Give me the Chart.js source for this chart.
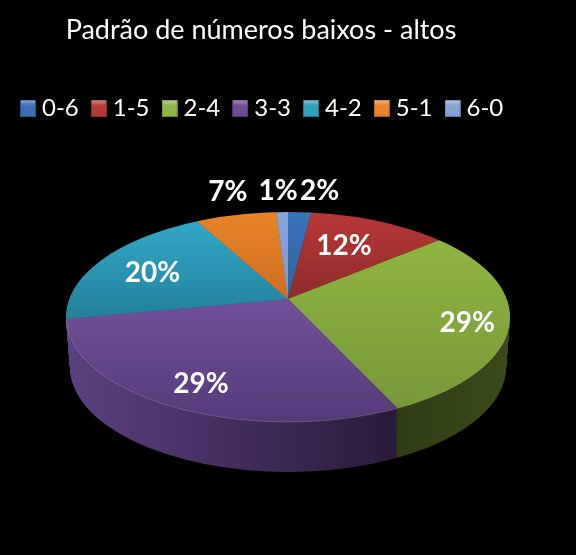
<!DOCTYPE html>
<html>
<head>
<meta charset="utf-8">
<style>
  html, body { margin: 0; padding: 0; background: #000; }
  canvas { display: block; }
</style>
<script src="https://cdn.jsdelivr.net/npm/chart.js@4/dist/chart.umd.min.js"></script>
</head>
<body>
<canvas id="chart" width="576" height="555"></canvas>
<script>
const titleText = 'Padrão de números baixos - altos';
const categories = ['0-6', '1-5', '2-4', '3-3', '4-2', '5-1', '6-0'];
const values = [2, 12, 29, 29, 20, 7, 1];

const swatchColors = ['#3a6fb5', '#b83a38', '#8fb545', '#6d4b96', '#2fa0bd', '#e8842c', '#86a3d6'];
const faceTop = ['#3a74bb', '#b83836', '#8fb540', '#72509a', '#32a6c6', '#e98428', '#86a6dc'];
const faceBottom = ['#2f609f', '#8f2b2b', '#76983a', '#553a7a', '#22809a', '#d06e1e', '#7a98d0'];
const wallLeft = ['#1e3a60', '#5a1c1c', '#0f1800', '#5c4082', '#155060', '#804410', '#4a5c80'];
const wallRight = ['#1e3a60', '#5a1c1c', '#3a4a19', '#2b1c3e', '#155060', '#804410', '#4a5c80'];

// projected shape of the disc, in page pixels
const apexY = 299, rimCx = 288, rimCy = 317, rimRx = 222, rimRy = 105;
const depth = 50, tilt = 0.47, reach = 270;
const faceRange = [[212, 299], [212, 299], [240, 410], [300, 422], [225, 320], [212, 299], [212, 299]];
// radius factor along the slice middle, then a nudge in pixels
const labelSpots = [[.8, 18, -7], [.43, 0, -5], [.68, 0, 5], [.71, 0, 5], [.555, 0, 4], [.8, 0, -10], [.8, -3, -7]];

function rimPath(ctx, cy, rx) {
  ctx.beginPath();
  ctx.ellipse(rimCx, cy, rx, rimRy, 0, 0, Math.PI * 2);
}

const discPlugin = {
  id: 'disc',
  // the legend sits a little right of where the title's centre would put it
  afterLayout(chart) {
    chart.legend.left += 6;
    chart.legend.right += 6;
  },
  beforeDatasetsDraw(chart) {
    const ctx = chart.ctx;
    const arcs = chart.getDatasetMeta(0).data;
    const cx = arcs[0].x, cy = arcs[0].y;
    const s = reach / arcs[0].outerRadius;
    const ux = x => cx + (x - rimCx) / s;
    const uy = y => cy + (y - apexY) / (s * tilt);

    const paint = (arc, fill) => {
      const copy = Object.create(arc);
      copy.options = Object.assign({}, arc.options, { backgroundColor: fill, borderWidth: 0 });
      arc.draw.call(copy, ctx);
    };
    const project = (shift) => {
      ctx.translate(rimCx, apexY + shift);
      ctx.scale(s, s * tilt);
      ctx.translate(-cx, -cy);
    };

    // side wall, stacked from the bottom up
    const wallFills = arcs.map((a, i) => {
      const g = ctx.createLinearGradient(ux(66), 0, ux(510), 0);
      g.addColorStop(0, wallLeft[i]);
      g.addColorStop(i === 3 ? .72 : 1, wallRight[i]);
      return g;
    });
    for (let d = depth; d > 0; d--) {
      ctx.save();
      rimPath(ctx, rimCy + d, rimRx - d * 0.08);
      ctx.clip();
      project(d);
      arcs.forEach((a, i) => paint(a, wallFills[i]));
      ctx.restore();
    }

    // top face
    ctx.save();
    rimPath(ctx, rimCy, rimRx);
    ctx.clip();
    project(0);
    arcs.forEach((a, i) => {
      const g = ctx.createLinearGradient(0, uy(faceRange[i][0]), 0, uy(faceRange[i][1]));
      g.addColorStop(0, faceTop[i]);
      g.addColorStop(1, faceBottom[i]);
      paint(a, g);
    });
    ctx.restore();

    // light line along the front rim
    ctx.save();
    ctx.strokeStyle = 'rgba(255,255,255,0.16)';
    ctx.lineWidth = 1;
    ctx.beginPath();
    ctx.ellipse(rimCx, rimCy, rimRx, rimRy, 0, 0.15, Math.PI - 0.02);
    ctx.stroke();
    ctx.restore();

    // percentage labels
    ctx.save();
    ctx.fillStyle = '#fff';
    ctx.font = 'bold 28px Lato';
    ctx.textAlign = 'center';
    ctx.textBaseline = 'middle';
    arcs.forEach((a, i) => {
      const mid = (a.startAngle + a.endAngle) / 2;
      const [f, nx, ny] = labelSpots[i];
      const x = rimCx + Math.cos(mid) * reach * f + nx;
      const y = apexY + Math.sin(mid) * reach * tilt * f + ny;
      ctx.fillText(values[i] + '%', x, y);
    });
    ctx.restore();
    return false;
  }
};

function swatch(color) {
  const c = document.createElement('canvas');
  c.width = 16; c.height = 17;
  const g = c.getContext('2d');
  g.fillStyle = color;
  g.fillRect(0, 0, 16, 17);
  const top = g.createLinearGradient(0, 0, 0, 6);
  top.addColorStop(0, 'rgba(255,255,255,.4)');
  top.addColorStop(1, 'rgba(255,255,255,0)');
  g.fillStyle = top;
  g.fillRect(1, 0, 14, 6);
  g.strokeStyle = 'rgba(0,0,0,.25)';
  g.strokeRect(.5, .5, 15, 16);
  return c;
}

new Chart(document.getElementById('chart'), {
  type: 'pie',
  data: {
    labels: categories,
    datasets: [{ data: values, backgroundColor: swatchColors, borderWidth: 0 }]
  },
  plugins: [discPlugin],
  options: {
    responsive: false,
    animation: false,
    layout: { padding: { left: 2, right: 56 } },
    plugins: {
      tooltip: { enabled: false },
      title: {
        display: true,
        text: titleText,
        color: '#fff',
        font: { family: 'Lato', size: 27, weight: 'normal' },
        padding: { top: 14, bottom: 32 }
      },
      legend: {
        position: 'top',
        align: 'start',
        onClick: null,
        labels: {
          color: '#fff',
          font: { family: 'Lato', size: 24 },
          usePointStyle: true,
          pointStyleWidth: 4,
          padding: 18,
          generateLabels: chart => categories.map((name, i) => ({
            text: name,
            fontColor: '#fff',
            pointStyle: swatch(swatchColors[i]),
            index: i
          }))
        }
      }
    }
  }
});
</script>
</body>
</html>
